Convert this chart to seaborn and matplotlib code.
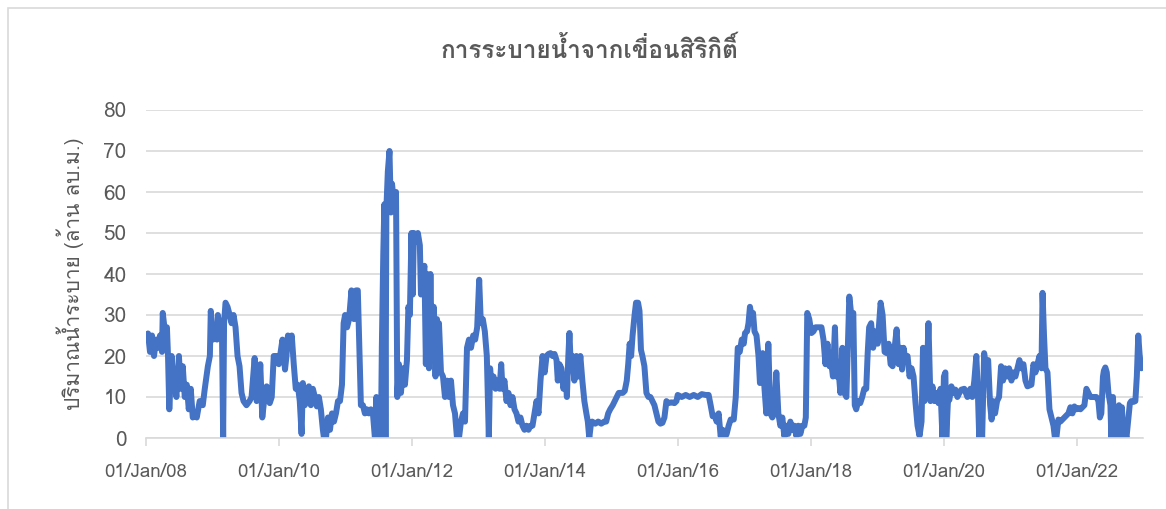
import pandas as pd
import matplotlib
matplotlib.use("Agg")
import matplotlib.pyplot as plt
import matplotlib.dates as mdates
from matplotlib import font_manager as fm
from matplotlib.ft2font import FT2Font
from matplotlib.patches import Rectangle
import seaborn as sns

# Daily release from Sirikit dam (million m3)
dates = [
    # 2008
    "2008-01-01", "2008-01-12", "2008-01-23", "2008-02-03", "2008-02-14", "2008-02-25",
    "2008-03-07", "2008-03-18", "2008-03-29", "2008-04-02", "2008-04-14", "2008-04-25",
    "2008-05-01", "2008-05-08", "2008-05-21", "2008-05-28", "2008-06-08", "2008-06-16",
    "2008-06-30", "2008-07-10", "2008-07-21", "2008-08-01", "2008-08-12", "2008-08-23",
    "2008-09-03", "2008-09-14", "2008-09-25", "2008-10-06", "2008-10-22", "2008-11-08",
    "2008-11-19", "2008-12-06", "2008-12-17", "2008-12-22",
    # 2009
    "2009-01-03", "2009-01-14", "2009-01-25", "2009-01-30", "2009-02-10", "2009-02-21",
    "2009-02-28", "2009-03-05", "2009-03-13", "2009-03-24", "2009-04-05", "2009-04-15",
    "2009-04-26", "2009-05-07", "2009-05-18", "2009-05-29", "2009-06-09", "2009-06-20",
    "2009-07-06", "2009-07-23", "2009-08-03", "2009-08-20", "2009-08-31", "2009-09-11",
    "2009-09-20", "2009-10-01", "2009-10-11", "2009-10-25", "2009-11-11", "2009-11-22",
    "2009-12-03", "2009-12-19", "2009-12-31",
    # 2010
    "2010-01-20", "2010-02-03", "2010-02-11", "2010-02-19", "2010-03-01", "2010-03-12",
    "2010-03-23", "2010-04-03", "2010-04-14", "2010-04-25", "2010-05-05", "2010-05-12",
    "2010-05-23", "2010-06-03", "2010-06-14", "2010-06-25", "2010-07-06", "2010-07-17",
    "2010-07-28", "2010-08-08", "2010-08-19", "2010-08-30", "2010-09-05", "2010-09-16",
    "2010-09-27", "2010-10-08", "2010-10-19", "2010-10-30", "2010-11-10", "2010-11-21",
    "2010-12-02", "2010-12-13", "2010-12-22", "2010-12-30",
    # 2011
    "2011-01-10", "2011-01-21", "2011-02-03", "2011-02-17", "2011-02-28", "2011-03-10",
    "2011-03-21", "2011-03-27", "2011-04-07", "2011-04-18", "2011-04-29", "2011-05-10",
    "2011-05-21", "2011-06-01", "2011-06-12", "2011-06-20", "2011-06-29", "2011-07-10",
    "2011-07-15", "2011-07-20", "2011-07-28", "2011-08-03", "2011-08-09", "2011-08-14",
    "2011-08-22", "2011-08-31", "2011-09-08", "2011-09-14", "2011-09-25", "2011-10-06",
    "2011-10-13", "2011-10-22", "2011-11-02", "2011-11-13", "2011-11-24", "2011-12-05",
    "2011-12-13", "2011-12-21", "2011-12-30",
    # 2012
    "2012-01-06", "2012-01-12", "2012-01-23", "2012-02-03", "2012-02-14", "2012-02-20",
    "2012-03-02", "2012-03-10", "2012-03-18", "2012-03-24", "2012-04-04", "2012-04-12",
    "2012-04-20", "2012-04-30", "2012-05-10", "2012-05-18", "2012-05-24", "2012-05-29",
    "2012-06-09", "2012-06-20", "2012-07-01", "2012-07-12", "2012-07-23", "2012-08-03",
    "2012-08-14", "2012-08-25", "2012-09-05", "2012-09-16", "2012-09-27", "2012-10-08",
    "2012-10-19", "2012-10-30", "2012-11-10", "2012-11-21", "2012-12-03", "2012-12-14",
    "2012-12-25",
    # 2013
    "2013-01-05", "2013-01-14", "2013-01-25", "2013-02-05", "2013-02-16", "2013-02-27",
    "2013-03-06", "2013-03-14", "2013-03-25", "2013-04-05", "2013-04-16", "2013-04-27",
    "2013-05-06", "2013-05-13", "2013-05-24", "2013-06-04", "2013-06-15", "2013-06-26",
    "2013-07-07", "2013-07-18", "2013-07-29", "2013-08-09", "2013-08-20", "2013-08-31",
    "2013-09-11", "2013-09-22", "2013-10-03", "2013-10-14", "2013-10-25", "2013-11-05",
    "2013-11-16", "2013-11-27", "2013-12-08", "2013-12-19", "2013-12-31",
    # 2014
    "2014-01-10", "2014-01-21", "2014-02-01", "2014-02-12", "2014-02-23", "2014-03-06",
    "2014-03-13", "2014-03-22", "2014-04-02", "2014-04-13", "2014-04-24", "2014-05-02",
    "2014-05-10", "2014-05-16", "2014-05-24", "2014-06-01", "2014-06-12", "2014-06-23",
    "2014-07-04", "2014-07-15", "2014-07-26", "2014-08-06", "2014-08-17", "2014-08-25",
    "2014-09-02", "2014-09-10", "2014-09-18", "2014-10-05", "2014-10-21", "2014-11-07",
    "2014-11-23", "2014-12-04", "2014-12-15", "2014-12-26",
    # 2015
    "2015-01-09", "2015-01-20", "2015-01-31", "2015-02-11", "2015-02-22", "2015-03-05",
    "2015-03-16", "2015-03-27", "2015-04-04", "2015-04-12", "2015-04-20", "2015-04-28",
    "2015-05-09", "2015-05-17", "2015-05-28", "2015-06-05", "2015-06-13", "2015-06-21",
    "2015-07-02", "2015-07-13", "2015-07-24", "2015-08-04", "2015-08-15", "2015-08-26",
    "2015-09-06", "2015-09-17", "2015-09-28", "2015-10-09", "2015-10-20", "2015-10-31",
    "2015-11-11", "2015-11-28", "2015-12-14", "2015-12-25",
    # 2016
    "2016-01-01", "2016-01-23", "2016-02-14", "2016-03-07", "2016-03-29", "2016-04-20",
    "2016-05-12", "2016-06-03", "2016-06-19", "2016-06-30", "2016-07-11", "2016-07-22",
    "2016-08-02", "2016-08-13", "2016-08-24", "2016-09-04", "2016-09-15", "2016-09-26",
    "2016-10-07", "2016-10-18", "2016-11-04", "2016-11-15", "2016-11-26", "2016-12-07",
    "2016-12-18", "2016-12-29",
    # 2017
    "2017-01-05", "2017-01-16", "2017-01-24", "2017-02-01", "2017-02-09", "2017-02-18",
    "2017-02-26", "2017-03-09", "2017-03-20", "2017-03-28", "2017-04-05", "2017-04-12",
    "2017-04-22", "2017-05-02", "2017-05-13", "2017-05-24", "2017-06-04", "2017-06-15",
    "2017-06-26", "2017-07-07", "2017-07-18", "2017-07-29", "2017-08-09", "2017-08-20",
    "2017-08-31", "2017-09-11", "2017-09-22", "2017-10-03", "2017-10-14", "2017-10-25",
    "2017-11-05", "2017-11-16", "2017-11-27", "2017-12-05", "2017-12-13", "2017-12-24",
    # 2018
    "2018-01-05", "2018-01-16", "2018-01-27", "2018-02-07", "2018-02-18", "2018-03-01",
    "2018-03-12", "2018-03-23", "2018-04-03", "2018-04-14", "2018-04-25", "2018-05-03",
    "2018-05-14", "2018-05-22", "2018-06-02", "2018-06-13", "2018-06-24", "2018-07-05",
    "2018-07-16", "2018-07-24", "2018-08-01", "2018-08-12", "2018-08-23", "2018-08-31",
    "2018-09-08", "2018-09-19", "2018-09-30", "2018-10-11", "2018-10-22", "2018-11-02",
    "2018-11-10", "2018-11-18", "2018-11-29", "2018-12-10", "2018-12-21",
    # 2019
    "2019-01-04", "2019-01-12", "2019-01-20", "2019-01-31", "2019-02-11", "2019-02-22",
    "2019-03-05", "2019-03-16", "2019-03-27", "2019-04-07", "2019-04-18", "2019-04-29",
    "2019-05-10", "2019-05-18", "2019-05-26", "2019-06-06", "2019-06-17", "2019-06-28",
    "2019-07-09", "2019-07-20", "2019-07-31", "2019-08-11", "2019-08-22", "2019-09-02",
    "2019-09-10", "2019-09-18", "2019-09-29", "2019-10-10", "2019-10-21", "2019-11-01",
    "2019-11-12", "2019-11-23", "2019-12-04", "2019-12-15", "2019-12-26",
    # 2020
    "2020-01-03", "2020-01-11", "2020-01-16", "2020-01-25", "2020-02-02", "2020-02-13",
    "2020-02-24", "2020-03-06", "2020-03-17", "2020-03-28", "2020-04-08", "2020-04-24",
    "2020-05-11", "2020-05-27", "2020-06-07", "2020-06-18", "2020-06-29", "2020-07-07",
    "2020-07-15", "2020-07-23", "2020-07-31", "2020-08-11", "2020-08-22", "2020-09-02",
    "2020-09-13", "2020-09-21", "2020-09-29", "2020-10-10", "2020-10-21", "2020-11-01",
    "2020-11-12", "2020-11-23", "2020-12-04", "2020-12-15", "2020-12-26",
    # 2021
    "2021-01-08", "2021-01-19", "2021-01-30", "2021-02-10", "2021-02-21", "2021-03-04",
    "2021-03-15", "2021-03-26", "2021-04-06", "2021-04-17", "2021-04-28", "2021-05-09",
    "2021-05-20", "2021-05-31", "2021-06-11", "2021-06-22", "2021-06-28", "2021-07-06",
    "2021-07-14", "2021-07-25", "2021-08-05", "2021-08-16", "2021-08-27", "2021-09-04",
    "2021-09-12", "2021-09-23", "2021-10-04", "2021-10-15", "2021-10-26", "2021-11-06",
    "2021-11-17", "2021-11-28", "2021-12-09", "2021-12-20",
    # 2022
    "2022-01-01", "2022-01-11", "2022-01-22", "2022-02-02", "2022-02-13", "2022-02-24",
    "2022-03-07", "2022-03-18", "2022-03-29", "2022-04-09", "2022-04-20", "2022-05-01",
    "2022-05-09", "2022-05-17", "2022-05-26", "2022-05-31", "2022-06-08", "2022-06-16",
    "2022-06-25", "2022-07-06", "2022-07-11", "2022-07-20", "2022-07-28", "2022-08-05",
    "2022-08-14", "2022-08-22", "2022-08-30", "2022-09-07", "2022-09-16", "2022-09-24",
    "2022-10-02", "2022-10-13", "2022-10-21", "2022-10-29", "2022-11-09", "2022-11-20",
    "2022-11-28", "2022-12-06", "2022-12-14", "2022-12-23",
]

release = [
    # 2008
    24, 25.5, 21, 25, 20, 24,
    22, 25, 21, 30.5, 26, 27,
    20, 7, 20, 15, 13, 10,
    20, 12, 17.5, 10, 13, 7,
    12, 5, 6, 5, 9, 8,
    12, 17.5, 20, 31,
    # 2009
    24, 27, 24, 30, 27, 28,
    0, 28, 33, 32, 30, 28,
    30, 27, 20, 17.5, 11, 9,
    8, 9, 10, 19.5, 9, 10,
    18, 5, 9, 12.6, 8.5, 10,
    20, 20, 18,
    # 2010
    24, 16.7, 20, 25, 22, 25,
    18, 12, 13, 9, 1, 13.4,
    8, 10, 12.6, 8, 12, 10,
    7.7, 10, 7, 2, 0, 0,
    5, 2, 6, 4, 6, 9,
    9, 13, 28, 30,
    # 2011
    27, 29, 36, 29, 36, 36,
    17.5, 8, 8, 6, 7, 6,
    7, 6, 0, 10, 0, 0,
    0, 22, 45, 57, 0, 56,
    65, 70, 55, 62, 57, 60,
    10, 18, 11, 17, 13, 19,
    32, 30, 50,
    # 2012
    35, 50, 48, 50, 47, 35,
    40, 42, 18, 40, 17, 40,
    20, 32, 15, 29, 17, 28,
    16, 15, 10, 14, 10, 14,
    8, 6, 0, 0, 4, 6,
    4, 22, 24, 22, 25, 24,
    27,
    # 2013
    38.6, 28, 29, 26, 20, 0,
    17, 13, 15, 12, 14, 12,
    18, 12, 14, 9, 11, 8,
    10, 7, 6, 4, 5, 3,
    2, 3, 2, 3, 3, 6,
    9, 6, 14, 20, 16,
    # 2014
    20, 20.5, 20.7, 20, 20.5, 19,
    14, 18, 17, 12, 15, 10,
    20, 25.6, 17, 20, 14, 20,
    15, 20, 14, 9, 6, 4,
    0, 3, 4, 3.5, 4, 3.5,
    4, 4, 6, 7,
    # 2015
    8, 9, 10, 11, 11, 11,
    11.5, 14, 18, 23, 20, 25,
    30, 33, 33, 31, 21.5, 20,
    17.5, 11, 10, 10, 9, 8,
    6, 4, 3.5, 3.7, 5, 9,
    8.5, 8.7, 8.5, 9,
    # 2016
    10.5, 10, 10.5, 10, 10.5, 10,
    10.7, 10.5, 10.5, 8, 5.3, 5.5,
    4, 6, 0.4, 2, 0, 1,
    3, 4.5, 4.5, 10, 22, 21,
    24, 23,
    # 2017
    25.6, 26, 28, 32, 30, 30.5,
    26, 25, 20, 13.4, 20, 20.7,
    12, 6, 23, 6, 5, 6,
    16, 6, 3, 5, 0.4, 3,
    1, 4, 2, 3, 0.5, 3,
    1, 3, 3, 5, 30.5, 29,
    # 2018
    25.6, 26, 27, 27, 27, 27,
    24, 18, 23, 17.5, 18, 15,
    27, 15, 17, 11, 22, 11,
    10, 22, 34.5, 30, 30.5, 8,
    7, 9, 8.5, 10, 12, 12,
    20.7, 27, 28, 22, 26,
    # 2019
    23, 28, 33, 30, 21, 20.7,
    23, 18, 17.5, 22, 26.5, 18,
    22, 16.7, 22, 19, 20, 15,
    17, 15, 8.5, 3, 0.5, 4,
    22, 9, 12, 28, 9, 12.6,
    9, 11, 8.5, 12, 0,
    # 2020
    15, 16, 0, 9, 9.3, 12.6,
    11, 11.8, 10, 11, 11.8, 12,
    10, 12, 10, 14, 20, 12,
    0, 8, 0, 20.7, 17, 19,
    8, 4.5, 9, 6, 9, 10,
    17.5, 14, 17, 15, 17,
    # 2021
    14, 16, 15, 17, 19, 17,
    18, 14, 12.6, 12.8, 13, 18,
    16, 18, 20, 17, 35.4, 25,
    17, 16, 7, 5, 3, 0,
    0, 4.5, 4, 4.5, 5, 5.5,
    6, 7.5, 6, 7.7,
    # 2022
    7, 7.3, 7, 7.5, 8, 12,
    11, 10, 10, 10, 10, 9,
    5, 6, 15, 16.4, 17.2, 16,
    11, 8, 0, 10, 0, 5,
    0, 8, 0, 7.5, 0, 2,
    0, 5, 8.5, 9, 8.8, 9,
    15, 25, 20, 17,
]

title = "การระบายน้ำจากเขื่อนสิริกิติ์"
ylabel = "ปริมาณน้ำระบาย (ล้าน ลบ.ม.)"

df = pd.DataFrame({"date": pd.to_datetime(dates), "release": release})

sns.set_style("white")

# look for an installed font that can draw Thai
thai_font = None
for f in fm.fontManager.ttflist:
    try:
        if 0x0E01 in FT2Font(f.fname).get_charmap():
            thai_font = f.name
            break
    except Exception:
        pass
families = [thai_font, "DejaVu Sans"] if thai_font else ["DejaVu Sans"]
plt.rcParams["font.family"] = families

grey = "#595959"

fig = plt.figure(figsize=(11.66, 5.09), dpi=100)
ax = fig.add_axes([146 / 1166, 1 - 438 / 509, (1143 - 146) / 1166, (438 - 110) / 509])

sns.lineplot(data=df, x="date", y="release", ax=ax, color="#4472C4",
             linewidth=4.3, solid_joinstyle="round", solid_capstyle="round")

ax.set_ylim(0, 80)
ax.set_xlim(pd.Timestamp("2008-01-01"), pd.Timestamp("2023-01-01"))
ax.set_yticks(range(0, 81, 10))
ax.xaxis.set_major_locator(mdates.YearLocator(2))
ax.xaxis.set_major_formatter(mdates.DateFormatter("%d/%b/%y"))

ax.grid(axis="y", color="#D9D9D9", linewidth=1.2)
ax.grid(axis="x", visible=False)
for side in ["left", "right", "top"]:
    ax.spines[side].set_visible(False)
ax.spines["bottom"].set_color("#D9D9D9")
ax.spines["bottom"].set_linewidth(1.2)

ax.tick_params(axis="y", length=0, pad=14, labelsize=15, labelcolor=grey)
ax.tick_params(axis="x", length=6, width=1.2, color="#D9D9D9", pad=12,
               labelsize=13.5, labelcolor=grey, bottom=True)

ax.set_xlabel("")
ax.set_ylabel(ylabel, fontsize=15, color=grey, labelpad=14)
fig.text(590 / 1166, 1 - 50 / 509, title, ha="center", va="center",
         fontsize=17.5, fontweight="bold", color=grey)

# chart frame like the spreadsheet chart area
fig.patches.append(Rectangle((8 / 1166, -0.05), 1.2, 1 - 8 / 509 + 0.05,
                             transform=fig.transFigure, fill=False,
                             edgecolor="#D9D9D9", linewidth=1.2))

fig.savefig("out.png", dpi=100)
